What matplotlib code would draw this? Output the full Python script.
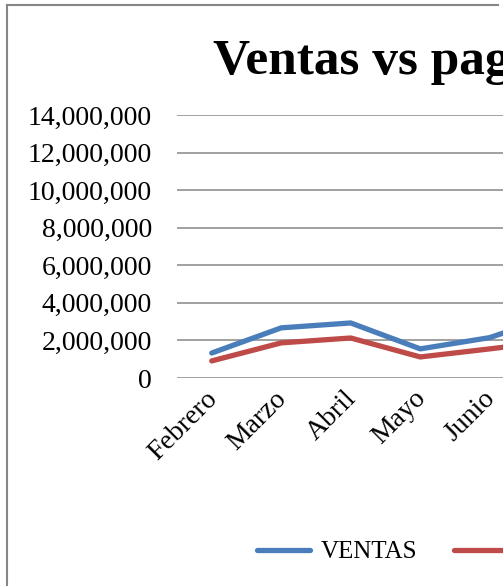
"""Ventas vs pagos: line chart, cropped Excel-style view."""

import matplotlib
matplotlib.use("Agg")
import matplotlib.pyplot as plt
from matplotlib.lines import Line2D
from matplotlib.ticker import FuncFormatter, MultipleLocator
import matplotlib.transforms as mtransforms

# data (Julio only shows as the segment leaving the frame)
months = ["Febrero", "Marzo", "Abril", "Mayo", "Junio", "Julio"]
ventas = [1330000, 2670000, 2930000, 1550000, 2150000, 3400000]
pagos = [910000, 1870000, 2130000, 1120000, 1550000, 2000000]
series_names = ["VENTAS", "PAGOS"]
title = "Ventas vs pagos"

BLUE = "#4A7EBB"
RED = "#BE4B48"
GRID = "#868686"

plt.rcParams["font.family"] = ["Liberation Serif", "DejaVu Serif"]

W, H = 503, 586
fig = plt.figure(figsize=(W / 100, H / 100), dpi=100)

# axes in pixel terms: left 177, zero line at y=378, 14M at y=115, 69.5 px per month
left, y0, ytop, step = 177, 378, 115, 69.5
ax = fig.add_axes([left / W, (H - y0) / H, len(months) * step / W, (y0 - ytop) / H])

x = range(len(months))
for vals, color in [(ventas, BLUE), (pagos, RED)]:
    ax.plot(x, vals, color=color, lw=3.8, solid_capstyle="round",
            solid_joinstyle="round", zorder=3)

ax.set_xlim(-0.5, len(months) - 0.5)
ax.set_ylim(0, 14000000)
ax.yaxis.set_major_locator(MultipleLocator(2000000))
ax.yaxis.set_major_formatter(FuncFormatter(lambda v, p: f"{int(v):,}"))
ax.grid(axis="y", color=GRID, lw=1.1)
ax.set_axisbelow(True)
for s in ax.spines.values():
    s.set_visible(False)

ax.tick_params(axis="y", length=0, pad=18, labelsize=20)
ax.tick_params(axis="x", length=0, pad=0, labelsize=20)
ax.set_xticks(list(x))
ax.set_xticklabels(months, rotation=45, ha="right", va="top", rotation_mode="anchor")
shift = mtransforms.ScaledTranslation(-7 / 100, -8 / 100, fig.dpi_scale_trans)
for lab in ax.get_xticklabels():
    lab.set_transform(lab.get_transform() + shift)

fig.text(213 / W, 1 - 74 / H, title, fontsize=37, fontweight="bold",
         ha="left", va="baseline")

handles = [Line2D([], [], color=c, lw=3.8, solid_capstyle="round") for c in (BLUE, RED)]
fig.legend(handles, series_names, loc="center left",
           bbox_to_anchor=(257 / W, 1 - 552 / H), ncol=2, frameon=False,
           borderpad=0, borderaxespad=0, fontsize=18, handlelength=2.1,
           handletextpad=0.45, columnspacing=1.45)

# chart frame (left and top edges visible in the crop)
fig.add_artist(Line2D([6.5 / W, 6.5 / W], [0, 1 - 5 / H], color=GRID, lw=1.5))
fig.add_artist(Line2D([6.5 / W, 498 / W], [1 - 5 / H, 1 - 5 / H], color=GRID, lw=1.5))

fig.savefig("out.png", dpi=100)
